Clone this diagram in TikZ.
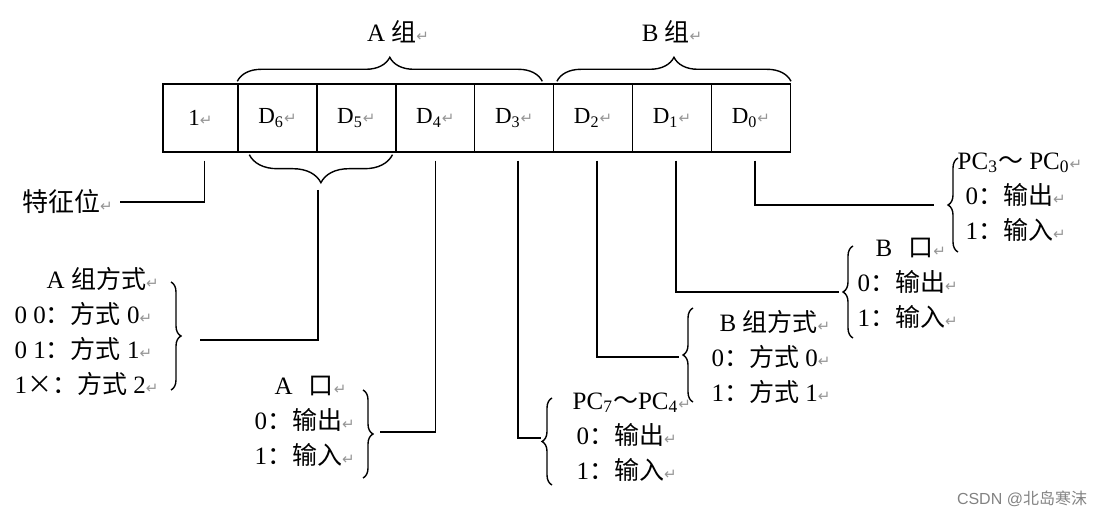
\documentclass[tikz,border=0pt]{standalone}
\usepackage{fontspec}
\setmainfont{Liberation Serif}
\newfontfamily\cjk{Noto Sans CJK SC}
\newfontfamily\symf{DejaVu Sans}
\newfontfamily\wmfont{Liberation Sans}
\usetikzlibrary{decorations.pathreplacing,calc}
\definecolor{markgray}{RGB}{150,150,150}
\definecolor{wmgray}{RGB}{130,130,130}
% paragraph mark after each text
\newcommand{\rmark}{{\symf\color{markgray}\fontsize{7.5}{7.5}\selectfont ↵}}

\begin{document}
\begin{tikzpicture}[x=0.5pt, y=-0.5pt,
    line width=0.7pt,
    bitbox/.style={draw, minimum width=39.45pt, minimum height=34pt,
                   inner sep=0pt, font=\fontsize{11.5}{13}\selectfont},
    blk/.style={align=left, inner sep=0pt, anchor=north west,
                font=\fontsize{12.5}{17.5}\selectfont},
    brc/.style={decorate, decoration={brace, amplitude=#1}},
    brc/.default=5pt,
    wire/.style={shorten <=4pt}]
  \useasboundingbox (0,0) rectangle (1106,517);

  % control word boxes
  \node[bitbox, minimum width=37.5pt] (bit1) at (200.5,118) {1\rmark};
  \foreach \k [count=\i from 0] in {6,5,4,3,2,1,0}{
    \node[bitbox] (d\k) at ({277.45+78.9*\i},118) {D\textsubscript{\k}\rmark};
  }

  % group braces on top
  \draw[brc=12pt] ([yshift=1pt]d6.north west) -- ([xshift=-6pt,yshift=1pt]d3.north east);
  \draw[brc=12pt] ([xshift=2pt,yshift=1pt]d2.north west) -- ([yshift=1pt]d0.north east);
  \node[font=\fontsize{12.5}{14}\selectfont] (agrp) at (398,32) {A {\cjk 组}\rmark};
  \node[font=\fontsize{12.5}{14}\selectfont] (bgrp) at (672,32) {B {\cjk 组}\rmark};

  % brace below D6 D5
  \draw[brc=14pt] ([xshift=-2pt,yshift=-1pt]d5.south east) -- ([xshift=6pt,yshift=-1pt]d6.south west);
  \coordinate (amsel) at (318,190);

  % texts
  \node[font=\fontsize{13}{15}\selectfont, anchor=east] (feat) at (120,202) {{\cjk 特征位}\rmark};
  \node[blk] (amode) at (14,267) {\hspace{16pt}A {\cjk 组方式}\rmark\\
    0 0{\cjk ：方式} 0\rmark\\ 0 1{\cjk ：方式} 1\rmark\\ 1{\cjk ×：方式} 2\rmark};
  \node[blk] (aport) at (254,375) {\hspace{10pt}A\hspace{8pt}{\cjk 口}\rmark\\
    0{\cjk ：输出}\rmark\\ 1{\cjk ：输入}\rmark};
  \node[blk] (pchi) at (572,392) {PC\textsubscript{7}{\cjk ～}PC\textsubscript{4}\rmark\\
    \hspace{2pt}0{\cjk ：输出}\rmark\\ \hspace{2pt}1{\cjk ：输入}\rmark};
  \node[blk] (bmode) at (711,310) {\hspace{4pt}B {\cjk 组方式}\rmark\\
    0{\cjk ：方式} 0\rmark\\ 1{\cjk ：方式} 1\rmark};
  \node[blk] (bport) at (857,237) {\hspace{9pt}B\hspace{8pt}{\cjk 口}\rmark\\
    0{\cjk ：输出}\rmark\\ 1{\cjk ：输入}\rmark};
  \node[blk] (pclo) at (957,152) {PC\textsubscript{3}{\cjk ～} PC\textsubscript{0}\rmark\\
    \hspace{4pt}0{\cjk ：输出}\rmark\\ \hspace{4pt}1{\cjk ：输入}\rmark};

  % braces of the text blocks
  \draw[brc] (171,282) -- (171,390);
  \draw[brc] (363,390) -- (363,478);
  \draw[brc] (552,485) -- (552,398);
  \draw[brc] (693,402) -- (693,308);
  \draw[brc] (853,338) -- (853,246);
  \draw[brc] (958,252) -- (958,158);
  \coordinate (amtip) at (200,340);
  \coordinate (aptip) at (380,432);
  \coordinate (pchtip) at (541,438);
  \coordinate (bmtip) at (679,357);
  \coordinate (bptip) at (839,292);
  \coordinate (pcltip) at (934,205);

  % connectors
  \draw[wire] ([xshift=2pt]bit1.south) |- (feat.east);
  \draw (amsel) |- (amtip);
  \draw[wire] (d4.south) |- (aptip);
  \draw[wire] ([xshift=2pt]d3.south) |- (pchtip);
  \draw[wire] ([xshift=2pt]d2.south) |- (bmtip);
  \draw[wire] ([xshift=2pt]d1.south) |- (bptip);
  \draw[wire] ([xshift=2pt]d0.south) |- (pcltip);

  % watermark
  \node[text=wmgray, font=\wmfont\fontsize{8}{9}\selectfont] (wm) at (1022,499)
    {CSDN @{\cjk 北岛寒沫}};
\end{tikzpicture}
\end{document}
